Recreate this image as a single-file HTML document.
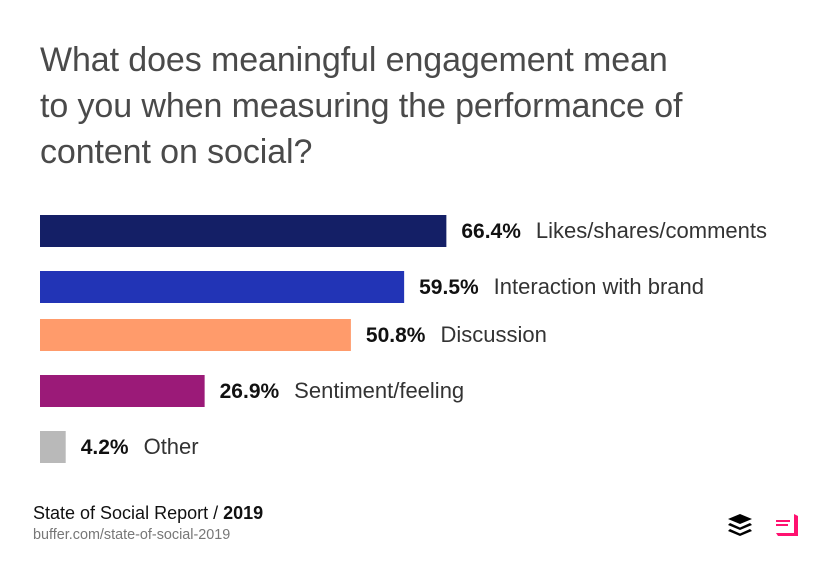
<!DOCTYPE html>
<html><head><meta charset="utf-8"><style>
body{margin:0;background:#fff;font-family:"Liberation Sans",sans-serif;}
#wrap{position:relative;width:832px;height:577px;overflow:hidden;background:#fff;}
#title{position:absolute;left:40px;top:37px;font-size:34px;line-height:46px;color:#4a4a4a;font-weight:300;margin:0;letter-spacing:-0.1px;}
.src{position:absolute;left:33px;font-size:18px;color:#111;}
.url{position:absolute;left:33px;font-size:14.4px;color:#777;}
</style></head><body>
<div id="wrap">
<h1 id="title">What does meaningful engagement mean<br>to you when measuring the performance of<br>content on social?</h1>
<svg id="chart" width="832" height="577" style="position:absolute;left:0;top:0"></svg>
<div class="src" style="top:503px">State of Social Report / <b>2019</b></div>
<div class="url" style="top:527px">buffer.com/state-of-social-2019</div>
<svg style="position:absolute;left:726px;top:512px" width="28" height="26" viewBox="0 0 28 26">
<polygon points="14,2 26,7 14,12 2,7" fill="#000"/>
<polygon points="4,11 14,15.5 24,11 26,13 14,18 2,13" fill="#000"/>
<polygon points="4,17 14,21.5 24,17 26,19 14,24 2,19" fill="#000"/>
</svg>
<svg style="position:absolute;left:774px;top:512px" width="26" height="26" viewBox="0 0 26 26">
<polygon points="20,2 24,4 24,24 4,24 2,21 20,21" fill="#ff1170"/>
<rect x="2" y="8" width="14" height="2" fill="#ff1170"/>
<rect x="2" y="12" width="12" height="2" fill="#ff1170"/>
</svg>
</div>
<script>
const categories=["Likes/shares/comments","Interaction with brand","Discussion","Sentiment/feeling","Other"];
const values=[66.4,59.5,50.8,26.9,4.2];
const valueLabels=["66.4%","59.5%","50.8%","26.9%","4.2%"];
const colors=["#141f66","#2234b6","#ff9b6b","#9b1a78","#b9b9b9"];
const rowTops=[215,271,319,375,431];
const x0=40, pxPer=6.12, barH=32;
function xScale(v){return x0+v*pxPer;}
const svg=document.getElementById('chart');
const NS="http://www.w3.org/2000/svg";
values.forEach((v,i)=>{
  const r=document.createElementNS(NS,'rect');
  r.setAttribute('x',x0);r.setAttribute('y',rowTops[i]);
  r.setAttribute('width',xScale(v)-x0);r.setAttribute('height',barH);
  r.setAttribute('fill',colors[i]);
  
  
  svg.appendChild(r);
  const t=document.createElementNS(NS,'text');
  t.setAttribute('x',xScale(v)+15);t.setAttribute('y',rowTops[i]+23);
  t.setAttribute('font-size','21');t.setAttribute('font-family','Liberation Sans, sans-serif');
  t.setAttribute('fill','#111');
  const b=document.createElementNS(NS,'tspan');b.setAttribute('font-weight','bold');b.textContent=valueLabels[i];
  const c=document.createElementNS(NS,'tspan');c.setAttribute('fill','#333');c.setAttribute('font-size','22');c.setAttribute('dx','15');c.textContent=categories[i];
  t.appendChild(b);t.appendChild(c);
  
  
  svg.appendChild(t);
});
</script>
</body></html>
